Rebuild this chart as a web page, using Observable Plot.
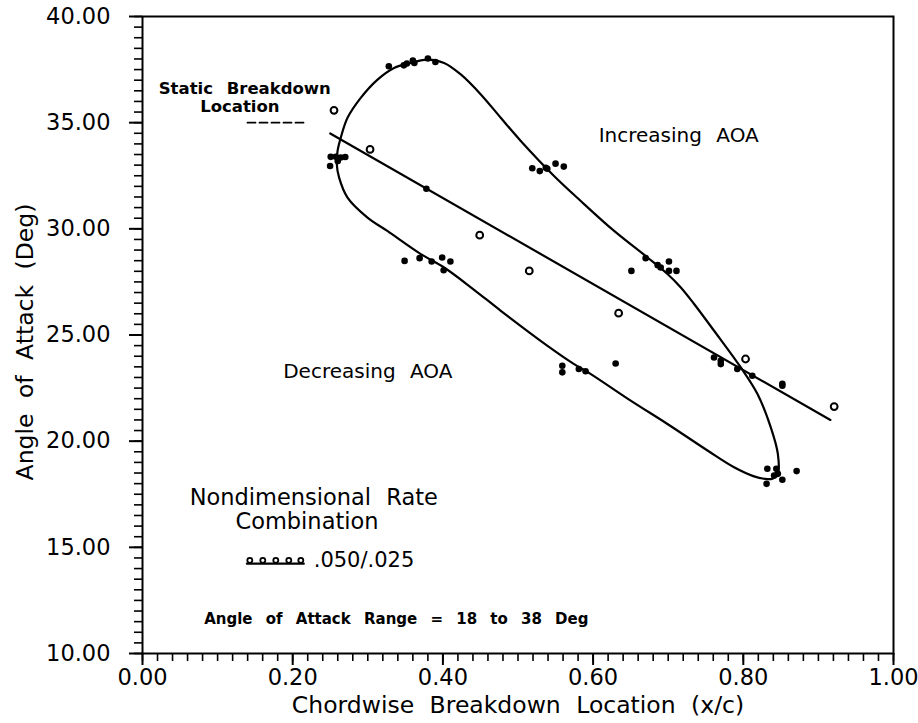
<!DOCTYPE html>
<html>
<head>
<meta charset="utf-8">
<script src="https://cdn.jsdelivr.net/npm/d3@7"></script>
<script src="https://cdn.jsdelivr.net/npm/@observablehq/plot@0.6"></script>
<style>
  html, body { margin: 0; padding: 0; background: #fff; }
  svg text { word-spacing: 8px; }
</style>
</head>
<body>
<div id="chart"></div>
<script>
// ---- Data ----
// Hysteresis loop: increasing AOA branch (bottom -> top)
const increasingBranch = [
  [0.8460,18.46],[0.8460,19.40],[0.8366,20.65],[0.8189,22.22],[0.7967,23.47],
  [0.7611,25.20],[0.7345,26.46],[0.7168,27.24],[0.6990,27.87],[0.6724,28.65],
  [0.6280,29.90],[0.5836,31.31],[0.5480,32.49],[0.5037,34.14],[0.4770,35.23],
  [0.4505,36.33],[0.4238,37.27],[0.4016,37.81],[0.3795,37.97]
];
// Decreasing AOA branch (top -> bottom)
const decreasingBranch = [
  [0.3573,37.81],[0.3350,37.58],[0.3130,37.03],[0.2906,36.17],[0.2730,35.23],
  [0.2640,34.29],[0.2597,33.66],[0.2587,33.04],[0.2618,32.41],[0.2730,31.47],
  [0.2996,30.53],[0.3260,29.90],[0.3706,28.81],[0.4016,28.18],[0.4415,27.13],
  [0.4771,26.14],[0.5393,24.49],[0.5747,23.63],[0.5970,23.16],[0.6500,21.91],
  [0.6990,20.81],[0.7523,19.56],[0.7877,18.77],[0.8144,18.34],[0.8277,18.23],
  [0.8389,18.23]
];
// Dynamic (.050/.025) measured points (filled)
const dynamicPoints = [
  [0.328,37.66],[0.348,37.70],[0.352,37.79],[0.360,37.93],[0.362,37.81],[0.380,38.02],[0.390,37.86],
  [0.2506,33.39],[0.2574,33.39],[0.264,33.36],[0.270,33.38],[0.260,33.19],[0.2498,32.96],
  [0.519,32.85],[0.529,32.72],[0.537,32.88],[0.539,32.83],[0.550,33.07],[0.561,32.93],
  [0.651,28.02],[0.670,28.62],[0.686,28.29],[0.690,28.18],[0.701,28.46],[0.701,28.02],[0.711,28.02],
  [0.761,23.94],[0.770,23.63],[0.770,23.79],[0.792,23.40],[0.812,23.08],[0.852,22.61],[0.852,22.70],
  [0.832,18.70],[0.844,18.70],[0.846,18.46],[0.852,18.18],[0.831,17.99],[0.871,18.59],[0.841,18.38],
  [0.349,28.49],[0.369,28.62],[0.385,28.46],[0.399,28.65],[0.410,28.46],[0.401,28.05],
  [0.559,23.55],[0.559,23.24],[0.581,23.40],[0.590,23.29],[0.630,23.66],
  [0.378,31.89]
];
// Static breakdown points (open circles)
const staticPoints = [
  [0.255,35.58],[0.303,33.74],[0.449,29.70],[0.515,28.02],[0.634,26.03],[0.803,23.87],[0.921,21.63]
];
// Static breakdown fit line
const staticLine = [[0.250,34.49],[0.916,21.00]];

// Axis ticks
const xMajor = [0, 0.2, 0.4, 0.6, 0.8, 1.0];
const xMinor = d3.range(0, 51).map(i => i / 50);
const yMajor = [10, 15, 20, 25, 30, 35, 40];
const yMinor = d3.range(0, 61).map(i => 10 + i / 2);

// Annotations (data coordinates)
const labelsNormal = [
  {x: 0.714, y: 34.37, text: "Increasing AOA", size: 20},
  {x: 0.300, y: 23.27, text: "Decreasing AOA", size: 20},
  {x: 0.228, y: 17.35, text: "Nondimensional Rate", size: 22.5},
  {x: 0.219, y: 16.22, text: "Combination", size: 22.5}
];
const labelsBold = [
  {x: 0.1362, y: 36.58, text: "Static Breakdown", size: 16.5},
  {x: 0.1296, y: 35.73, text: "Location", size: 16.5},
  {x: 0.338, y: 11.61, text: "Angle of Attack Range = 18 to 38 Deg", size: 15}
];
const legendRateText = [{x: 0.228, y: 14.39, text: ".050/.025"}];
const legendStaticDash = [[0.1398,35.0],[0.2188,35.0]];
const legendRateLine = [[0.139,14.23],[0.2148,14.23]];
const legendRateDots = [[0.1429,14.39],[0.1602,14.39],[0.1775,14.39],[0.1948,14.39],[0.2108,14.39]];

const xTitle = "Chordwise Breakdown Location (x/c)";
const yTitle = "Angle of Attack (Deg)";

const loop = increasingBranch.concat(decreasingBranch);

const chart = Plot.plot({
  width: 918,
  height: 723,
  marginLeft: 142,
  marginRight: 25,
  marginTop: 16,
  marginBottom: 70,
  x: {domain: [0, 1]},
  y: {domain: [10, 40]},
  style: {fontFamily: "DejaVu Sans", background: "white", color: "black", overflow: "visible"},
  marks: [
    Plot.frame({stroke: "black", strokeWidth: 2}),
    Plot.axisY({ticks: yMinor, tickSize: 8, tickFormat: () => "", strokeWidth: 1.6, label: null}),
    Plot.axisY({ticks: yMajor, tickSize: 13, tickPadding: 19, tickFormat: d3.format(".2f"), fontSize: 22.5, strokeWidth: 2, label: null}),
    Plot.axisX({ticks: xMinor, tickSize: 8, tickFormat: () => "", strokeWidth: 1.6, label: null}),
    Plot.axisX({ticks: xMajor, tickSize: 12, tickPadding: 4, tickFormat: d3.format(".2f"), fontSize: 22.5, strokeWidth: 2, label: null}),
    Plot.text([xTitle], {frameAnchor: "bottom", dy: 52, fontSize: 23.5, lineAnchor: "middle"}),
    Plot.text([yTitle], {frameAnchor: "left", rotate: -90, dx: -117, dy: 7, fontSize: 23.5, textAnchor: "middle", lineAnchor: "middle"}),
    Plot.line(loop, {x: d => d[0], y: d => d[1], curve: "catmull-rom-closed", stroke: "black", strokeWidth: 2.2}),
    Plot.line(staticLine, {x: d => d[0], y: d => d[1], stroke: "black", strokeWidth: 2.2}),
    Plot.dot(dynamicPoints, {x: d => d[0], y: d => d[1], r: 3.3, fill: "black", stroke: "none"}),
    Plot.dot(staticPoints, {x: d => d[0], y: d => d[1], r: 3.4, fill: "white", stroke: "black", strokeWidth: 2}),
    Plot.text(labelsNormal, {x: "x", y: "y", text: "text", fontSize: d => d.size, fill: "black"}),
    Plot.text(labelsBold, {x: "x", y: "y", text: "text", fontSize: d => d.size, fontWeight: "bold", fill: "black"}),
    Plot.text(legendRateText, {x: "x", y: "y", text: "text", fontSize: 21, textAnchor: "start", fill: "black"}),
    Plot.line(legendStaticDash, {x: d => d[0], y: d => d[1], stroke: "black", strokeWidth: 1.8, strokeDasharray: "8,4"}),
    Plot.line(legendRateLine, {x: d => d[0], y: d => d[1], stroke: "black", strokeWidth: 2.2}),
    Plot.dot(legendRateDots, {x: d => d[0], y: d => d[1], r: 2.5, fill: "white", stroke: "black", strokeWidth: 1.8})
  ]
});
document.getElementById("chart").appendChild(chart);
</script>
</body>
</html>
